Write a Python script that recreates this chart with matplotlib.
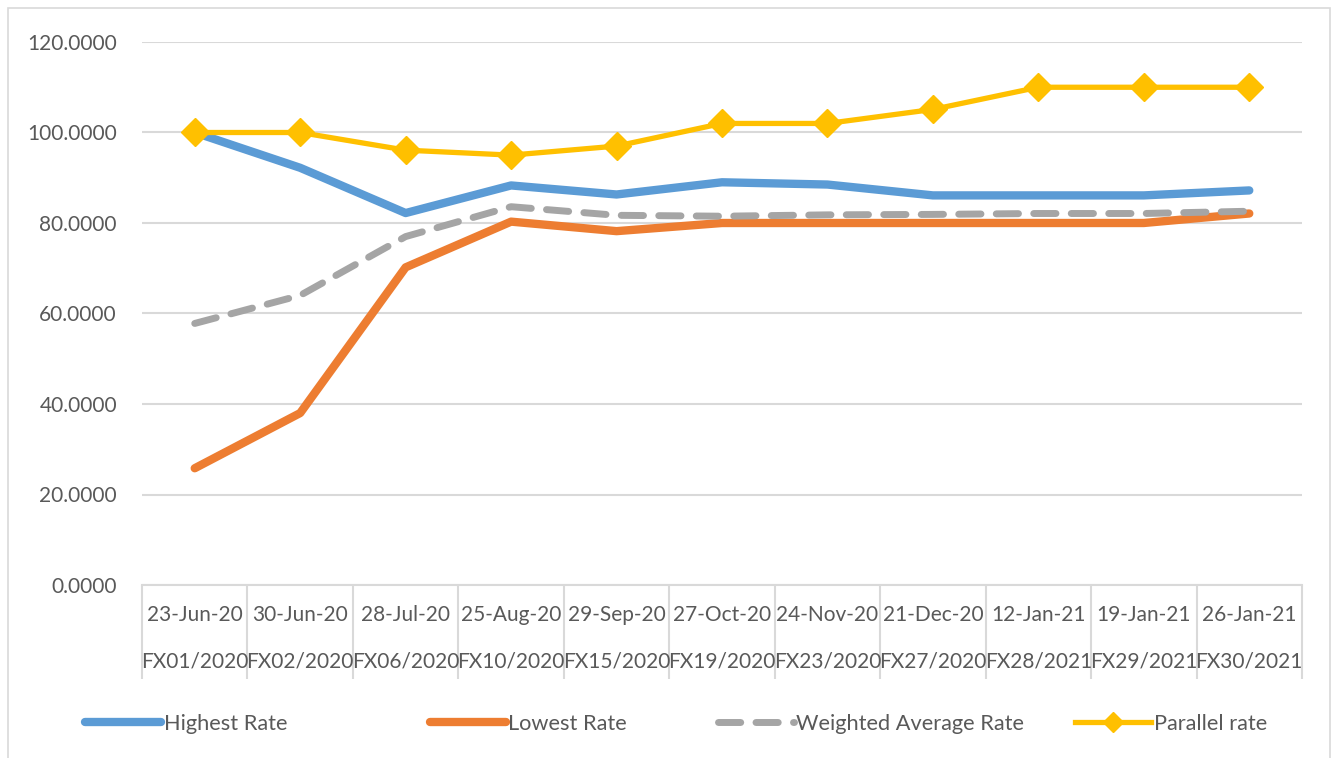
import matplotlib.pyplot as plt
import matplotlib.transforms as mtransforms
from matplotlib.patches import Rectangle

dates = ["23-Jun-20", "30-Jun-20", "28-Jul-20", "25-Aug-20", "29-Sep-20", "27-Oct-20",
         "24-Nov-20", "21-Dec-20", "12-Jan-21", "19-Jan-21", "26-Jan-21"]
auctions = ["FX01/2020", "FX02/2020", "FX06/2020", "FX10/2020", "FX15/2020", "FX19/2020",
            "FX23/2020", "FX27/2020", "FX28/2021", "FX29/2021", "FX30/2021"]
highest = [100.0, 92.2, 82.2, 88.3, 86.3, 89.0, 88.5, 86.1, 86.1, 86.1, 87.2]
lowest = [25.8, 38.0, 70.2, 80.3, 78.2, 80.0, 80.0, 80.0, 80.0, 80.0, 82.1]
weighted = [57.8, 64.0, 77.0, 83.6, 81.7, 81.5, 81.8, 81.9, 82.1, 82.1, 82.6]
parallel = [100.0, 100.0, 96.1, 95.0, 97.0, 102.0, 102.0, 105.1, 110.0, 110.0, 110.0]

plt.rcParams['font.family'] = ['Lato', 'DejaVu Sans']
text_color = "#595959"
grid_color = "#d9d9d9"

fig = plt.figure(figsize=(13.43, 7.58), dpi=100)
ax = fig.add_axes([142 / 1343, 1 - 585 / 758, 1160 / 1343, 543 / 758])

x = list(range(len(dates)))
l1, = ax.plot(x, highest, color="#5b9bd5", lw=6, solid_capstyle="round",
              solid_joinstyle="round", label="Highest Rate")
l2, = ax.plot(x, lowest, color="#ed7d31", lw=6, solid_capstyle="round",
              solid_joinstyle="round", label="Lowest Rate")
l3, = ax.plot(x, weighted, color="#a5a5a5", lw=5, dashes=(3.2, 2.2),
              dash_capstyle="round", label="Weighted Average Rate")
l4, = ax.plot(x, parallel, color="#ffc000", lw=3.8, marker="D", markersize=14.5,
              label="Parallel rate")

ax.set_xlim(-0.5, len(dates) - 0.5)
ax.set_ylim(0, 120)
ax.set_yticks([0, 20, 40, 60, 80, 100, 120])
ax.set_yticklabels([f"{v:.4f}" for v in [0, 20, 40, 60, 80, 100, 120]])
ax.tick_params(axis="y", length=0, pad=18, labelsize=15, labelcolor=text_color)
ax.grid(axis="y", color=grid_color, lw=1.5)
ax.set_axisbelow(True)

for s in ["top", "right", "left"]:
    ax.spines[s].set_visible(False)
ax.spines["bottom"].set_color(grid_color)
ax.spines["bottom"].set_linewidth(1.5)

# category dividers of the two-level axis
ax.set_xticks([i - 0.5 for i in range(len(dates) + 1)])
ax.set_xticklabels([])
ax.tick_params(axis="x", length=68, width=1.5, color=grid_color)

trans = mtransforms.blended_transform_factory(ax.transData, ax.transAxes)
for i, (d, a) in enumerate(zip(dates, auctions)):
    ax.text(i, -0.0552, d, transform=trans, ha="center", va="center",
            fontsize=15, color=text_color)
    ax.text(i, -0.1418, a, transform=trans, ha="center", va="center",
            fontsize=15, color=text_color)

# legend entries spread along the bottom
for line, xpos in zip([l1, l2, l3, l4], [85, 430, 718, 1075]):
    fig.legend(handles=[line], loc="center left",
               bbox_to_anchor=(xpos / 1343, 1 - 724 / 758),
               frameon=False, fontsize=15.7, labelcolor=text_color,
               handlelength=3.5, handletextpad=0.1, borderpad=0, borderaxespad=0,
               markerscale=0.7)

fig.patches.append(Rectangle((8 / 1343, -0.01), 1322 / 1343, 1 - 8 / 758 + 0.01,
                             transform=fig.transFigure, fill=False,
                             edgecolor=grid_color, lw=1.2))

fig.savefig("out.png", dpi=100)
